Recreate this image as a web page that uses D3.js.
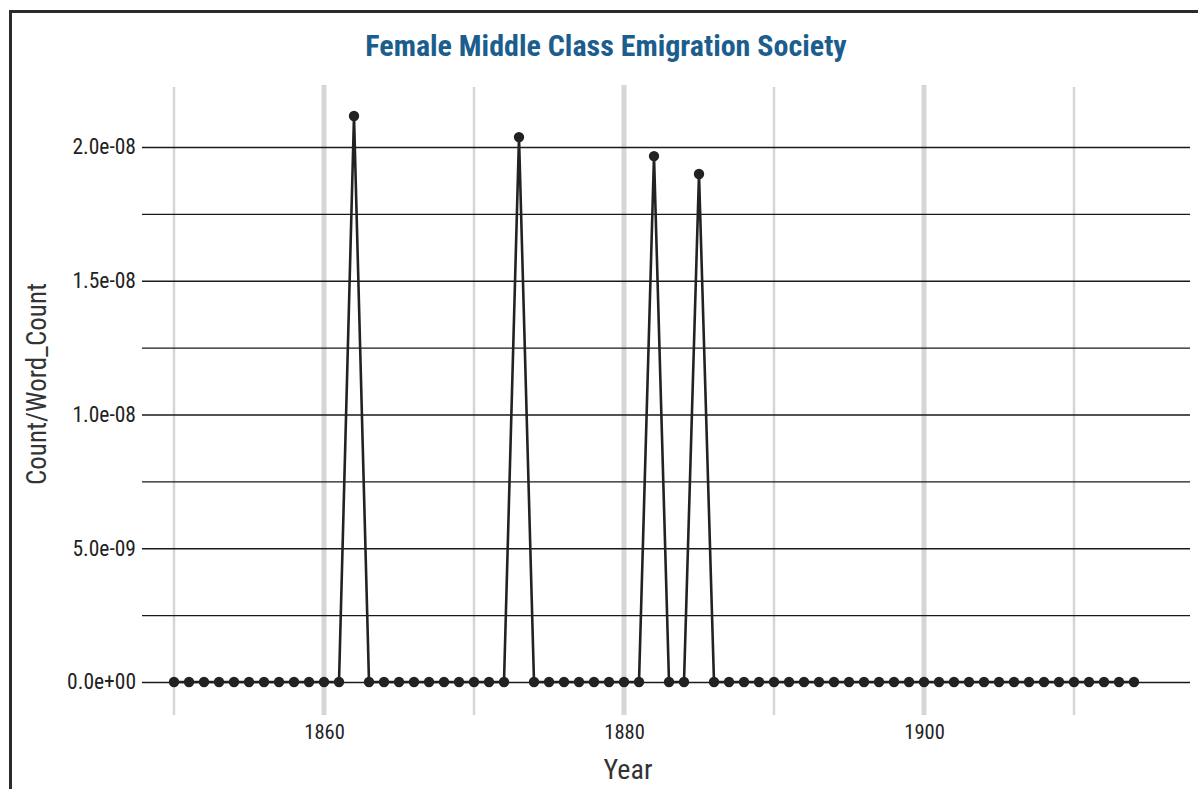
<!DOCTYPE html>
<html>
<head>
<meta charset="utf-8">
<script src="https://cdn.jsdelivr.net/npm/d3@7"></script>
<style>
  html, body { margin: 0; padding: 0; background: #fff; }
  svg { display: block; }
  text { font-family: "Liberation Sans Narrow", "Roboto Condensed", "Arial Narrow", sans-serif; }
</style>
</head>
<body>
<svg id="chart" width="1198" height="789"></svg>
<script>
// ---- data ----
const years = d3.range(1850, 1915);
const peakYears = [1862, 1873, 1882, 1885];
const peakValues = [2.116e-8, 2.037e-8, 1.966e-8, 1.899e-8];
const values = years.map(y => { const i = peakYears.indexOf(y); return i >= 0 ? peakValues[i] : 0; });
const xTicks = [1860, 1880, 1900];
const xMinorTicks = [1850, 1870, 1890, 1910];
const yTicks = [0, 5e-9, 1e-8, 1.5e-8, 2e-8];
const yMinorTicks = [2.5e-9, 7.5e-9, 1.25e-8, 1.75e-8];
const title = "Female Middle Class Emigration Society";

// ---- layout ----
const svg = d3.select("#chart");
const x = d3.scaleLinear().domain([1850, 1914]).range([174, 1134]);
const y = d3.scaleLinear().domain([0, 2e-8]).range([682, 147]);
const plotLeft = 142, plotRight = 1190, plotTop = 87, plotBottom = 715;

// frame
svg.append("path")
  .attr("d", `M10.5,789 L10.5,11.5 L1198,11.5`)
  .attr("fill", "none").attr("stroke", "#2b2b2b").attr("stroke-width", 3);

// vertical gridlines
svg.append("g").selectAll("line").data(xMinorTicks).join("line")
  .attr("x1", d => x(d)).attr("x2", d => x(d))
  .attr("y1", plotTop).attr("y2", plotBottom)
  .attr("stroke", "#d6d6d6").attr("stroke-width", 2.5);
svg.append("g").selectAll("line").data(xTicks).join("line")
  .attr("x1", d => x(d)).attr("x2", d => x(d))
  .attr("y1", plotTop - 2).attr("y2", plotBottom)
  .attr("stroke", "#d6d6d6").attr("stroke-width", 5);

// horizontal gridlines (axis)
const yAxis = d3.axisLeft(y).tickValues(yTicks.concat(yMinorTicks))
  .tickSize(-(plotRight - plotLeft))
  .tickFormat(d => yTicks.includes(d) ? d3.format(".1e")(d).replace(/e([+-])(\d)$/, "e$10$2") : "");
const gy = svg.append("g").attr("transform", `translate(${plotLeft},0)`).call(yAxis);
gy.select(".domain").remove();
gy.selectAll(".tick line").attr("stroke", "#1a1a1a").attr("stroke-width", 1.3);
gy.selectAll(".tick text").attr("x", -6).attr("font-size", 21.5).attr("fill", "#222");

// x tick labels
const xAxis = d3.axisBottom(x).tickValues(xTicks).tickSize(0).tickFormat(d3.format("d"));
const gx = svg.append("g").attr("transform", `translate(0,${plotBottom + 6})`).call(xAxis);
gx.select(".domain").remove();
gx.selectAll(".tick text").attr("font-size", 20.5).attr("fill", "#222");

// line
const line = d3.line().x((d, i) => x(years[i])).y(d => y(d));
svg.append("path").datum(values)
  .attr("d", line).attr("fill", "none")
  .attr("stroke", "#222").attr("stroke-width", 2.6).attr("stroke-linejoin", "miter");

// points
svg.append("g").selectAll("circle").data(values).join("circle")
  .attr("cx", (d, i) => x(years[i])).attr("cy", d => y(d))
  .attr("r", 5.2).attr("fill", "#222");

// title
svg.append("text").attr("x", 606).attr("y", 56).attr("text-anchor", "middle")
  .attr("font-size", 30).attr("font-weight", "bold").attr("fill", "#1b5e8e")
  .text(title);

// axis titles
svg.append("text").attr("x", 628).attr("y", 779).attr("text-anchor", "middle")
  .attr("font-size", 28).attr("fill", "#333").text("Year");
svg.append("text").attr("transform", "translate(46,384) rotate(-90)")
  .attr("text-anchor", "middle").attr("font-size", 27).attr("fill", "#333")
  .text("Count/Word_Count");
</script>
</body>
</html>
